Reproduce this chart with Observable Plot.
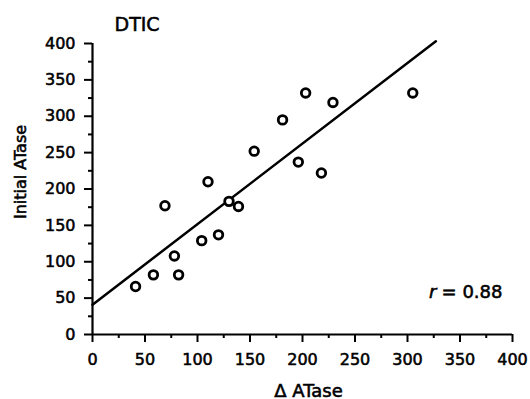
<!DOCTYPE html>
<html>
<head>
<meta charset="utf-8">
<script src="https://cdn.jsdelivr.net/npm/d3@7"></script>
<script src="https://cdn.jsdelivr.net/npm/@observablehq/plot@0.6"></script>
<style>
  html, body { margin: 0; padding: 0; background: #fff; }
  #chart svg { display: block; }
  #chart svg text { stroke: #000; stroke-width: 0.55px; paint-order: stroke; }
</style>
</head>
<body>
<div id="chart"></div>
<script>
// Δ ATase (x) and initial ATase (y) for each sample
const deltaATase   = [41, 58, 82, 78, 69, 104, 120, 110, 130, 139, 154, 181, 203, 196, 218, 229, 305];
const initialATase = [66, 82, 82, 108, 177, 129, 137, 210, 183, 176, 252, 295, 332, 237, 222, 319, 332];

// regression line end points
const fitX = [0, 327];
const fitY = [41, 403];

const majorTicks = [0, 50, 100, 150, 200, 250, 300, 350, 400];
const minorTicks = [25, 75, 125, 175, 225, 275, 325, 375];

const title = "DTIC";
const xLabel = "Δ ATase";
const yLabel = "Initial ATase";
const rLabel = "r";
const rValue = "= 0.88";

const points = deltaATase.map((x, i) => ({x, y: initialATase[i]}));
const fit = fitX.map((x, i) => ({x, y: fitY[i]}));

const font = "DejaVu Sans";

const chart = Plot.plot({
  width: 530,
  height: 399,
  marginLeft: 92,
  marginRight: 18,
  marginTop: 43,
  marginBottom: 65,
  style: {fontFamily: font, background: "#fff", color: "#000"},
  x: {domain: [0, 400]},
  y: {domain: [0, 400]},
  marks: [
    Plot.axisX({ticks: minorTicks, tickSize: 4, strokeWidth: 2, tickFormat: () => "", label: null}),
    Plot.axisY({ticks: minorTicks, tickSize: 4, strokeWidth: 2, tickFormat: () => "", label: null}),
    Plot.axisX({ticks: majorTicks, tickSize: 8, tickPadding: 11, strokeWidth: 2, fontSize: 16, label: null}),
    Plot.axisY({ticks: majorTicks, tickSize: 8, tickPadding: 9, strokeWidth: 2, fontSize: 16, label: null}),
    Plot.ruleY([0], {strokeWidth: 2.2}),
    Plot.ruleX([0], {strokeWidth: 2.2}),
    Plot.line(fit, {x: "x", y: "y", stroke: "#000", strokeWidth: 2.5}),
    Plot.dot(points, {x: "x", y: "y", r: 4.3, stroke: "#000", fill: "#fff", strokeWidth: 2.8}),
    Plot.text([title], {frameAnchor: "top-left", textAnchor: "start", lineAnchor: "bottom", dx: 22, dy: -13, fontSize: 19}),
    Plot.text([xLabel], {frameAnchor: "bottom", textAnchor: "middle", lineAnchor: "bottom", dx: 6, dy: 62, fontSize: 18}),
    Plot.text([yLabel], {frameAnchor: "left", textAnchor: "middle", lineAnchor: "bottom", rotate: -90, dx: -67, dy: -17, fontSize: 16}),
    Plot.text([rLabel], {frameAnchor: "bottom-right", textAnchor: "end", lineAnchor: "bottom", dx: -76, dy: -37, fontSize: 18, fontStyle: "italic"}),
    Plot.text([rValue], {frameAnchor: "bottom-right", textAnchor: "end", lineAnchor: "bottom", dx: -10, dy: -37, fontSize: 18})
  ]
});

document.getElementById("chart").appendChild(chart);
</script>
</body>
</html>
